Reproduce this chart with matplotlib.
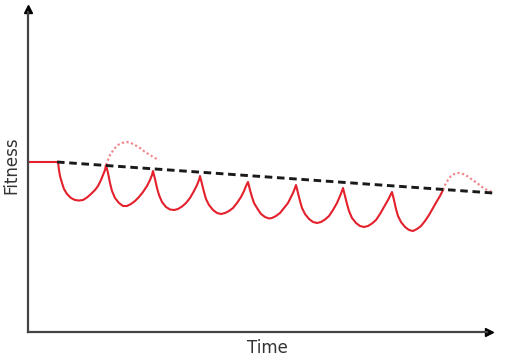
import matplotlib
matplotlib.use("Agg")
import matplotlib.pyplot as plt

# fitness over time (arbitrary units, no ticks shown)
flat_t = [0, 30]
flat_f = [170, 170]

actual_t = [30, 31, 32, 34, 36, 39, 43, 47, 51, 55, 59, 63, 67, 70, 73, 75, 77, 78,
            80, 82, 84, 87, 91, 95, 99, 103, 107, 111, 115, 119, 122, 124, 125,
            127, 129, 131, 134, 138, 142, 146, 150, 154, 158, 162, 166, 169, 171, 172,
            174, 176, 178, 181, 185, 189, 193, 197, 201, 205, 209, 213, 216, 218, 220,
            222, 224, 226, 229, 233, 237, 241, 244, 248, 252, 256, 260, 263, 265, 267, 268,
            270, 272, 274, 277, 281, 285, 289, 293, 297, 301, 305, 309, 312, 314, 315,
            317, 319, 321, 324, 328, 332, 336, 340, 344, 348, 352, 356, 360, 362, 364,
            366, 368, 370, 373, 377, 381, 385, 389, 393, 397, 401, 405, 409, 412, 415]
actual_f = [170, 162, 156, 149, 143, 138, 134, 132, 131.5, 132, 134.5, 138, 142, 146, 152, 157, 162, 167,
            159, 149, 141, 134, 129, 126, 126, 128, 131, 135, 140, 146, 152, 157, 161,
            153, 144, 137, 130, 125, 122.5, 122, 123, 125.5, 129, 134, 141, 147, 152, 156,
            148, 140, 133, 127, 122, 119, 118, 119, 121, 124, 129, 135, 141, 146, 150,
            142, 135, 129, 124, 118, 115, 113.5, 114, 116, 119, 124, 129, 135, 139, 144, 147,
            139, 131, 124, 118, 113, 110, 109, 110, 112.5, 116, 122, 129, 136, 141, 144,
            136, 128, 121, 114, 109, 106, 105, 106, 108.5, 112, 118, 125, 132, 136, 140,
            132, 123, 116, 110, 105, 102, 101, 103, 106, 111, 117, 124, 131, 136, 142]

alt1_t = [78, 80, 82, 86, 90, 94, 99, 103, 107, 112, 117, 122, 127, 131]
alt1_f = [167, 172, 177, 183, 187, 189, 190, 189, 187, 184, 180, 177, 174, 172]

alt2_t = [415, 417, 420, 423, 427, 431, 435, 439, 444, 449, 454, 459, 464]
alt2_f = [142, 147, 152, 156, 158.5, 159, 158, 156, 152.5, 149, 145, 142, 140]

trend_t = [29, 465]
trend_f = [170, 139]

W, H = 519, 359
fig = plt.figure(figsize=(W / 100, H / 100), dpi=100)
ax = fig.add_axes([28 / W, 27 / H, 470 / W, 330 / H])
ax.set_xlim(0, 470)
ax.set_ylim(0, 330)

red = "#e4202c"
ax.plot(flat_t, flat_f, color=red, lw=1.5, solid_capstyle="butt")
ax.plot(actual_t, actual_f, color=red, lw=1.5, solid_joinstyle="round")
ax.plot(alt1_t, alt1_f, color="#f08a8e", lw=1.6, ls=(0, (1.0, 1.1)))
ax.plot(alt2_t, alt2_f, color="#f08a8e", lw=1.6, ls=(0, (1.0, 1.1)))
ax.plot(trend_t, trend_f, color="#1a1a1a", lw=2.1, ls=(0, (2.6, 1.6)), zorder=3)

# axes with arrow heads
for s in ["top", "right"]:
    ax.spines[s].set_visible(False)
for s in ["left", "bottom"]:
    ax.spines[s].set_color("#444444")
    ax.spines[s].set_linewidth(1.6)
ax.spines["bottom"].set_bounds(0, 459)
ax.spines["left"].set_bounds(0, 320)
ax.plot(461, 0, ">", color="black", ms=6, clip_on=False)
ax.plot(0, 323, "^", color="black", ms=6, clip_on=False)
ax.set_xticks([])
ax.set_yticks([])

fig.text(267 / W, 1 - 348 / H, "Time", fontsize=12, color="#333333",
         ha="center", va="center")
fig.text(11 / W, 1 - 165 / H, "Fitness", fontsize=12, color="#333333",
         ha="center", va="center", rotation=90)

fig.savefig("out.png", dpi=100)
